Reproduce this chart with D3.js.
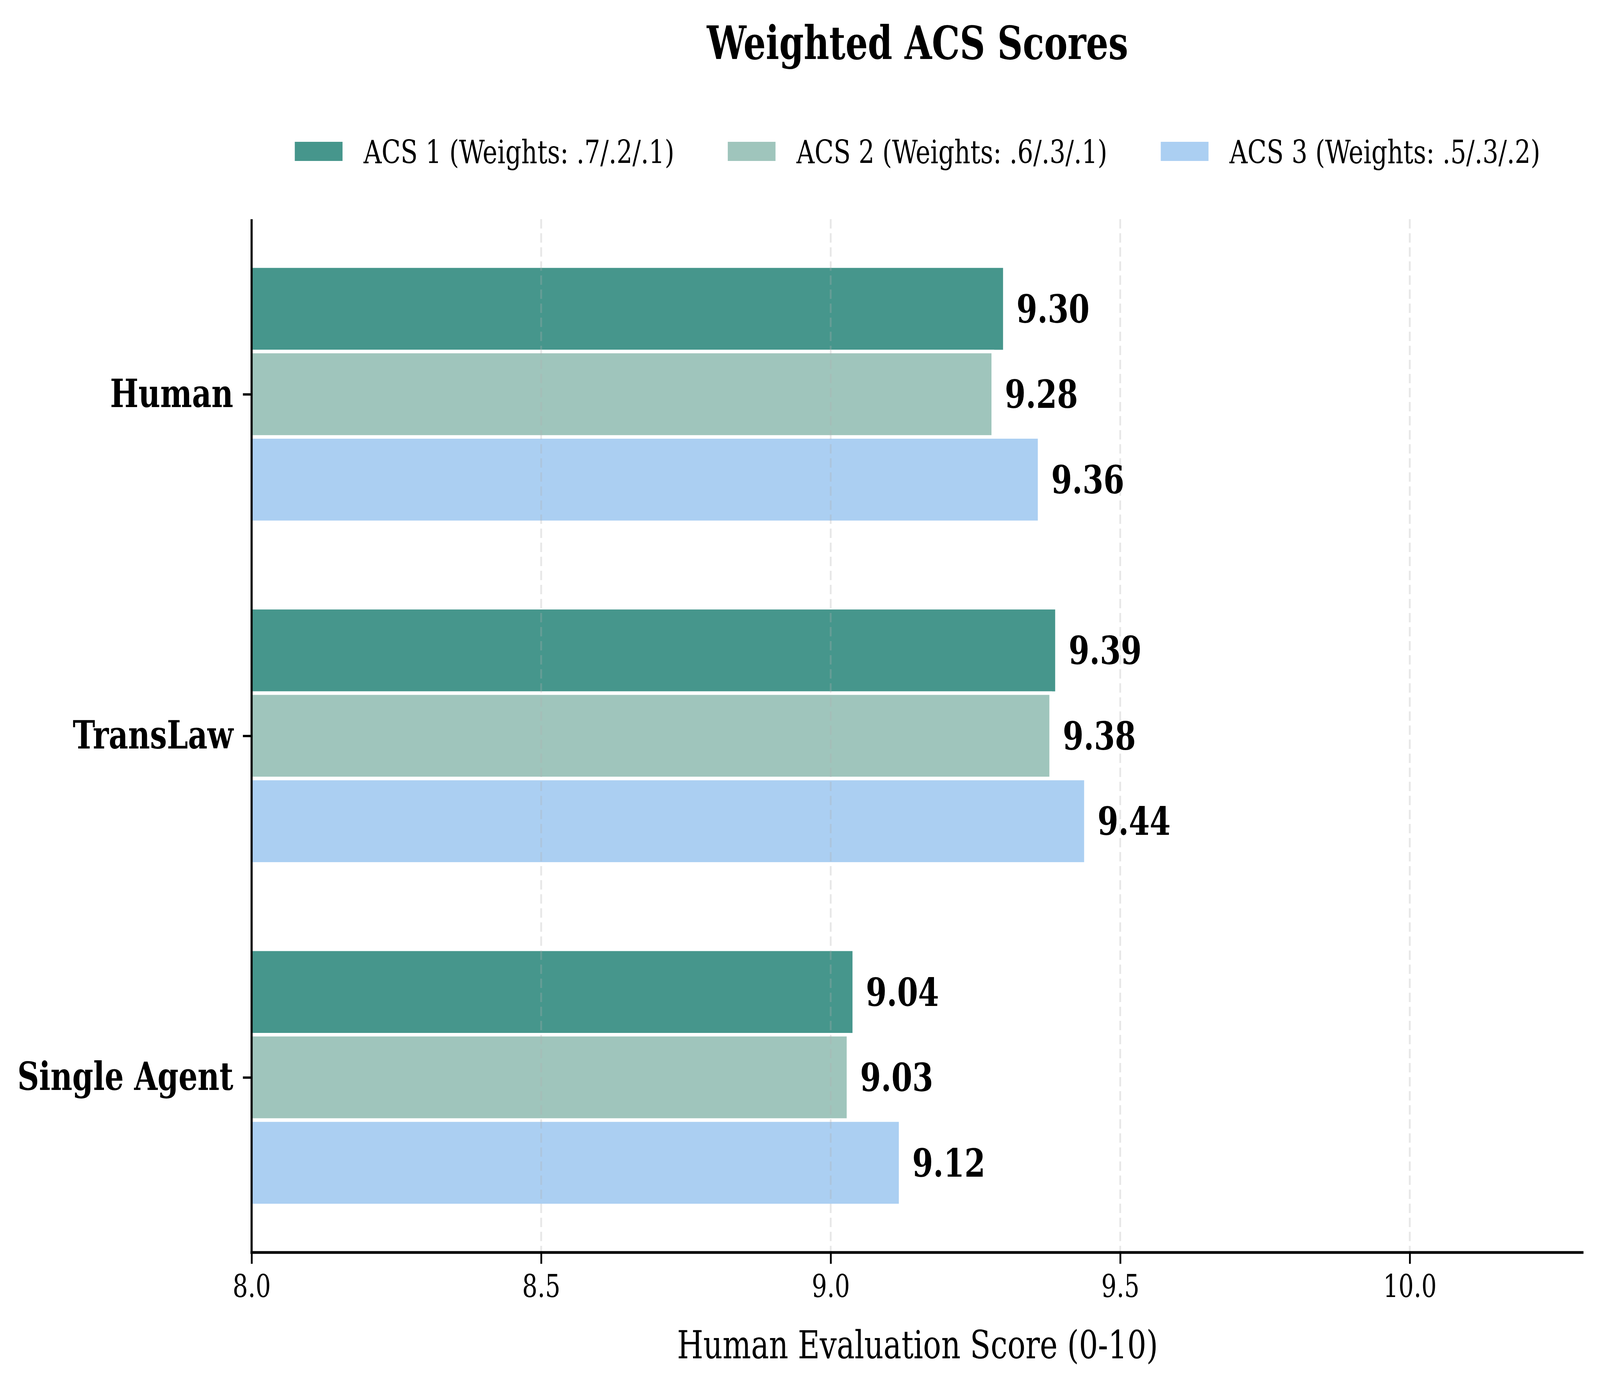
<html lang="en">
<head>
    <meta charset="UTF-8">
    <title>Weighted ACS Scores</title>
    <script type="text/javascript" src="https://unpkg.com/d3@7/dist/d3.min.js"></script>
    <style>
        html, body{
            margin:0;
            padding:0;
            background:#fff;
            overflow:hidden;
        }
        svg {
            display:block;
            width:100vw;
            height:100vh;
        }
        text {
            font-family: "DejaVu Serif", serif;
        }
    </style>
</head>
<body>
<svg viewBox="0 0 5329 3535" preserveAspectRatio="none"></svg>

<script>

// data
var categories = ['Single Agent', 'TransLaw', 'Human']   // bottom -> top
var acs1 = [9.04, 9.39, 9.30]
var acs2 = [9.03, 9.38, 9.28]
var acs3 = [9.12, 9.44, 9.36]
var seriesNames = ['ACS 1 (Weights: .7/.2/.1)', 'ACS 2 (Weights: .6/.3/.1)', 'ACS 3 (Weights: .5/.3/.2)']
var seriesColors = ['#46968c', '#9fc5bc', '#abcff2']
var xTicks = [8.0, 8.5, 9.0, 9.5, 10.0]

// plot box (window.top is reserved, so no "top" here)
var plotL = 838, plotR = 5274, plotT = 561, plotB = 3206
var barH = 0.25

var svg = d3.select('svg')

var x = d3.scaleLinear().domain([8.0, 10.3]).range([plotL, plotR])
var y = d3.scaleLinear().domain([-0.5125, 2.5125]).range([plotB, plotT])

svg.append('defs').append('clipPath').attr('id', 'plot')
    .append('rect')
    .attr('x', plotL).attr('y', plotT)
    .attr('width', plotR - plotL).attr('height', plotB - plotT)

// bars
var series = [acs1, acs2, acs3]
var offsets = [barH, 0, -barH]
var barsG = svg.append('g').attr('clip-path', 'url(#plot)')
series.forEach(function (vals, s) {
    barsG.selectAll('.b' + s)
        .data(vals)
        .enter()
        .append('rect')
        .attr('class', 'b' + s)
        .attr('x', x(7.9))
        .attr('y', (d, i) => y(i + offsets[s] + barH / 2))
        .attr('width', d => x(d) - x(7.9))
        .attr('height', y(0) - y(barH))
        .attr('fill', seriesColors[s])
        .attr('stroke', '#fff')
        .attr('stroke-width', 9)
})

// grid (drawn over bars, faint)
svg.append('g')
    .selectAll('line')
    .data(xTicks)
    .enter()
    .append('line')
    .attr('x1', d => x(d)).attr('x2', d => x(d))
    .attr('y1', plotT).attr('y2', plotB)
    .attr('stroke', '#b0b0b0')
    .attr('stroke-opacity', 0.3)
    .attr('stroke-width', 6)
    .attr('stroke-dasharray', '24,12')

// value labels
series.forEach(function (vals, s) {
    svg.append('g')
        .selectAll('text')
        .data(vals)
        .enter()
        .append('text')
        .attr('x', d => x(d) + 40)
        .attr('y', (d, i) => y(i + offsets[s]))
        .attr('dominant-baseline', 'central')
        .style('font-size', '100px')
        .style('font-weight', 'bold')
        .text(d => d.toFixed(2))
})

// x axis
var xAxis = d3.axisBottom(x)
    .tickValues(xTicks)
    .tickFormat(d3.format('.1f'))
    .tickSize(29)
    .tickPadding(28)
    .tickSizeOuter(0)
var gx = svg.append('g')
    .attr('transform', 'translate(0,' + plotB + ')')
    .call(xAxis)
gx.select('.domain').attr('stroke', '#000').attr('stroke-width', 7).attr('d', 'M' + (plotL - 3.5) + ',0H' + plotR)
gx.selectAll('.tick line').attr('stroke', '#000').attr('stroke-width', 6)
gx.selectAll('.tick text')
    .attr('fill', '#000')
    .style('font-family', '"DejaVu Serif", serif')
    .style('font-size', '80px')

// y axis
var yAxis = d3.axisLeft(y)
    .tickValues([0, 1, 2])
    .tickFormat(i => categories[i])
    .tickSize(29)
    .tickPadding(32)
    .tickSizeOuter(0)
var gy = svg.append('g')
    .attr('transform', 'translate(' + plotL + ',0)')
    .call(yAxis)
gy.select('.domain').attr('stroke', '#000').attr('stroke-width', 7).attr('d', 'M0,' + plotT + 'V' + (plotB + 3.5))
gy.selectAll('.tick line').attr('stroke', '#000').attr('stroke-width', 6)
gy.selectAll('.tick text')
    .attr('fill', '#000')
    .style('font-family', '"DejaVu Serif", serif')
    .style('font-size', '100px')
    .style('font-weight', 'bold')

// axis title
svg.append('text')
    .attr('x', (plotL + plotR) / 2)
    .attr('y', 3477)
    .attr('text-anchor', 'middle')
    .style('font-size', '100px')
    .text('Human Evaluation Score (0-10)')

// title
svg.append('text')
    .attr('x', (plotL + plotR) / 2)
    .attr('y', 151)
    .attr('text-anchor', 'middle')
    .style('font-size', '117px')
    .style('font-weight', 'bold')
    .text('Weighted ACS Scores')

// legend
var legend = svg.append('g')
var patchW = 159, patchH = 49, textGap = 70, colGap = 178
var cursor = 0
var items = legend.selectAll('g')
    .data(seriesNames)
    .enter()
    .append('g')
items.append('rect')
    .attr('y', 363)
    .attr('width', patchW)
    .attr('height', patchH)
    .attr('fill', (d, i) => seriesColors[i])
items.append('text')
    .attr('x', patchW + textGap)
    .attr('y', 418)
    .style('font-size', '83px')
    .text(d => d)
items.each(function () {
    var g = d3.select(this)
    g.attr('transform', 'translate(' + cursor + ',0)')
    cursor += patchW + textGap + g.select('text').node().getComputedTextLength() + colGap
})
var legendW = cursor - colGap
legend.attr('transform', 'translate(' + ((plotL + plotR) / 2 - legendW / 2) + ',0)')

</script>
</body>
</html>
